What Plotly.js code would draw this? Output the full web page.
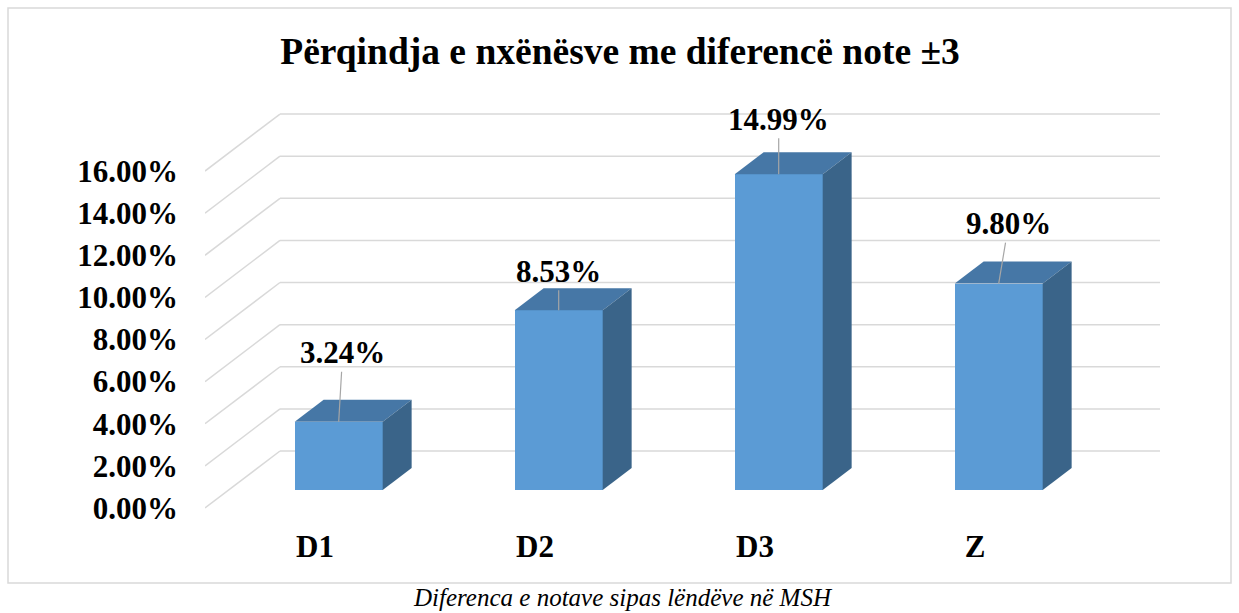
<!DOCTYPE html>
<html>
<head>
<meta charset="utf-8">
<script src="https://cdn.plot.ly/plotly-3.0.1.min.js"></script>
<style>
html,body{margin:0;padding:0;background:#fff;}
#chart{width:1239px;height:613px;}
</style>
</head>
<body>
<div id="chart"></div>
<script>
// ---- data ----
var categories = ["D1", "D2", "D3", "Z"];
var values = [3.24, 8.53, 14.99, 9.80];
var valueLabels = ["3.24%", "8.53%", "14.99%", "9.80%"];
var tickValues = [0, 2, 4, 6, 8, 10, 12, 14, 16];
var tickLabels = ["0.00%", "2.00%", "4.00%", "6.00%", "8.00%", "10.00%", "12.00%", "14.00%", "16.00%"];
var titleText = "Përqindja e nxënësve me diferencë note ±3";
var captionText = "Diferenca e notave sipas lëndëve në MSH";

// ---- geometry / style (oblique 3D look) ----
var DX = 0.3409;   // full depth, in category units
var DY = 2.7066;   // full depth, in value units
var F1 = 0.316;    // bar front depth fraction
var F2 = 0.702;    // bar back depth fraction
var BW = 0.4;      // bar width
var FONT = "Liberation Serif";
var labelOffsets = [[4, -69], [0, -39], [0, -55], [10, -60]];

var xMin = -0.5, xMax = categories.length - 0.5 + DX;

var shapes = [];
tickValues.forEach(function (v) {
  shapes.push({type: "line", xref: "x", yref: "y", layer: "below",
    x0: xMin, y0: v, x1: xMin + DX, y1: v + DY,
    line: {color: "#d9d9d9", width: 1.5}});
  shapes.push({type: "line", xref: "x", yref: "y", layer: "below",
    x0: xMin + DX, y0: v + DY, x1: xMax, y1: v + DY,
    line: {color: "#d9d9d9", width: 1.5}});
});
// outer border
shapes.push({type: "rect", xref: "paper", yref: "paper",
  x0: (8 - 205) / 955, x1: (1231 - 205) / 955,
  y0: (520 - 583) / 420, y1: (520 - 8) / 420,
  line: {color: "#d9d9d9", width: 1.5}, fillcolor: "rgba(0,0,0,0)"});

var traces = [];
// front faces as bars
traces.push({
  type: "bar",
  x: categories.map(function (c, i) { return i + F1 * DX; }),
  y: values,
  base: values.map(function () { return F1 * DY; }),
  width: BW,
  marker: {color: "#5b9bd5", line: {width: 0}},
  hoverinfo: "skip",
  showlegend: false
});
// top & side faces
values.forEach(function (v, i) {
  var xl = i - BW / 2 + F1 * DX, xr = i + BW / 2 + F1 * DX;
  var yb = F1 * DY, yt = v + F1 * DY;
  var ddx = (F2 - F1) * DX, ddy = (F2 - F1) * DY;
  traces.push({type: "scatter", mode: "lines", fill: "toself",
    x: [xl, xr, xr + ddx, xl + ddx, xl],
    y: [yt, yt, yt + ddy, yt + ddy, yt],
    fillcolor: "#4677a6", line: {width: 0}, hoverinfo: "skip", showlegend: false});
  traces.push({type: "scatter", mode: "lines", fill: "toself",
    x: [xr, xr, xr + ddx, xr + ddx, xr],
    y: [yb, yt, yt + ddy, yb + ddy, yb],
    fillcolor: "#3a6489", line: {width: 0}, hoverinfo: "skip", showlegend: false});
});

var annotations = values.map(function (v, i) {
  return {x: i + F1 * DX, y: v + F1 * DY, xref: "x", yref: "y",
    text: "<b>" + valueLabels[i] + "</b>", showarrow: true, arrowhead: 0, arrowwidth: 1.2,
    arrowcolor: "#a6a6a6", ax: labelOffsets[i][0], ay: labelOffsets[i][1],
    font: {family: FONT, size: 31, color: "#000"}, standoff: 0};
});
annotations.push({xref: "paper", yref: "paper",
  x: (623 - 205) / 955, y: (520 - 597) / 420, xanchor: "center", yanchor: "middle",
  text: "<i>" + captionText + "</i>", showarrow: false,
  font: {family: FONT, size: 25, color: "#000"}});

var layout = {
  width: 1239, height: 613,
  margin: {l: 205, r: 79, t: 100, b: 93},
  paper_bgcolor: "#fff", plot_bgcolor: "rgba(0,0,0,0)",
  title: {text: "<b>" + titleText + "</b>", xref: "container", yref: "container",
    x: 620 / 1239, y: 1 - 51 / 613, xanchor: "center", yanchor: "middle",
    font: {family: FONT, size: 37.5, color: "#000"}},
  xaxis: {range: [xMin, xMax], tickvals: categories.map(function (c, i) { return i; }),
    ticktext: categories.map(function (c) { return "<b>" + c + "</b>"; }),
    showgrid: false, zeroline: false, showline: false, ticks: "",
    ticklabelstandoff: 5,
    tickfont: {family: FONT, size: 31, color: "#000"}, fixedrange: true},
  yaxis: {range: [-12 / 21.06, 408 / 21.06], tickvals: tickValues,
    ticktext: tickLabels.map(function (t) { return "<b>" + t + "</b>"; }),
    showgrid: false, zeroline: false, showline: false, ticks: "",
    ticklabelstandoff: 26,
    tickfont: {family: FONT, size: 31, color: "#000"}, fixedrange: true},
  shapes: shapes,
  annotations: annotations,
  showlegend: false,
  bargap: 0
};

Plotly.newPlot("chart", traces, layout, {displayModeBar: false, staticPlot: true});
</script>
</body>
</html>
